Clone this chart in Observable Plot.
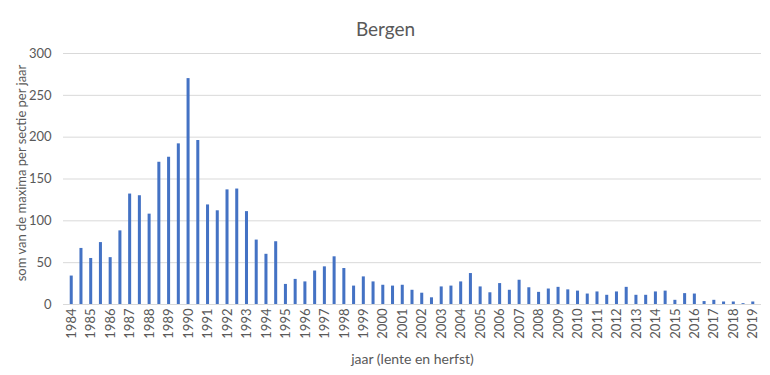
<!DOCTYPE html>
<html>
<head>
<meta charset="utf-8">
<script src="https://cdn.jsdelivr.net/npm/d3@7"></script>
<script src="https://cdn.jsdelivr.net/npm/@observablehq/plot@0.6"></script>
<style>
  html, body { margin: 0; padding: 0; background: #fff; }
</style>
</head>
<body>
<div id="chart"></div>
<script>
const title = "Bergen";
const yLabel = "som van de maxima per sectie per jaar";
const xLabel = "jaar (lente en herfst)";
const years = [1984,1985,1986,1987,1988,1989,1990,1991,1992,1993,1994,1995,1996,1997,1998,1999,2000,2001,
               2002,2003,2004,2005,2006,2007,2008,2009,2010,2011,2012,2013,2014,2015,2016,2017,2018,2019];
// spring (lente) values per year
const lente = [34,55,56,132,108,176,270,119,137,111,60,24,27,45,43,33,23,23,
               13.5,21,27,21,25,29,14.5,20.5,16,15,15,11,15,5,12.5,5,3,3];
// autumn (herfst) values per year (no autumn for 2019)
const herfst = [67,74,88,130,170,192,196,112,138,77,75,30,40,57,22,27,22,17,
                8,22,37,14,17,20,18.5,17.5,12.5,11,20.5,11,16,13,3.5,3,1];
const yTicks = [0,50,100,150,200,250,300];

const rows = [];
years.forEach((yr, i) => {
  rows.push({key: yr + " lente", year: yr, value: lente[i]});
  if (herfst[i] !== undefined) rows.push({key: yr + " herfst", year: yr, value: herfst[i]});
});
const keys = rows.map(d => d.key);
const springKeys = keys.filter(k => k.endsWith("lente"));

const textColor = "#595959";

const chart = Plot.plot({
  width: 770,
  height: 375,
  marginTop: 53,
  marginBottom: 71,
  marginLeft: 63,
  marginRight: 9,
  style: {fontFamily: "Lato", fontSize: "13px", color: textColor, background: "#fff"},
  x: {domain: keys, padding: 0.69, label: null},
  y: {domain: [0, 300], label: null},
  marks: [
    Plot.gridY(yTicks, {stroke: "#d9d9d9", strokeOpacity: 1, strokeWidth: 1}),
    Plot.barY(rows, {x: "key", y: "value", fill: "#4472C4"}),
    Plot.axisY(yTicks, {tickSize: 0, tickPadding: 12, fontSize: 13, fill: textColor, label: null}),
    Plot.axisX(springKeys, {tickSize: 0, tickPadding: 4, tickRotate: -90, fontSize: 13, fill: textColor,
      tickFormat: k => k.slice(0, 4), label: null}),
    Plot.text([yLabel], {frameAnchor: "left", textAnchor: "middle", dx: -42, dy: -6, rotate: -90, fontSize: 13, fill: textColor}),
    Plot.text([xLabel], {frameAnchor: "bottom", dy: 59, fontSize: 14, fill: textColor}),
    Plot.text([title], {frameAnchor: "top", dy: -31, dx: -27, fontSize: 19, fill: textColor})
  ]
});
document.getElementById("chart").appendChild(chart);
</script>
</body>
</html>
